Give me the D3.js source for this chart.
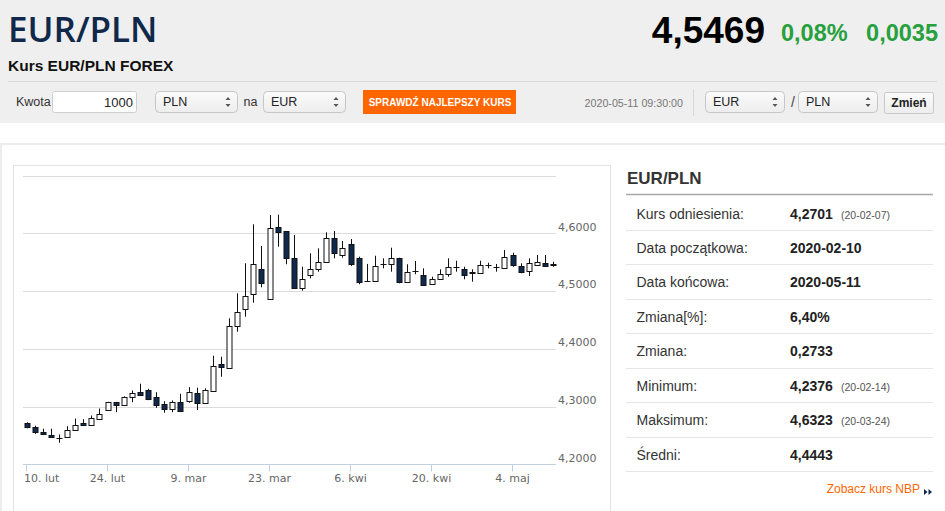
<!DOCTYPE html>
<html><head><meta charset="utf-8">
<script src="https://cdn.jsdelivr.net/npm/d3@7"></script>
<style>
html,body{margin:0;padding:0;background:#fff;}
svg{display:block;font-family:"Liberation Sans",Arial,sans-serif;}
</style></head>
<body>
<svg id="c" width="945" height="511"></svg>
<script>
// ---------- DATA ----------
const dates = [
 "2020-02-10","2020-02-11","2020-02-12","2020-02-13","2020-02-14",
 "2020-02-17","2020-02-18","2020-02-19","2020-02-20","2020-02-21",
 "2020-02-24","2020-02-25","2020-02-26","2020-02-27","2020-02-28",
 "2020-03-02","2020-03-03","2020-03-04","2020-03-05","2020-03-06",
 "2020-03-09","2020-03-10","2020-03-11","2020-03-12","2020-03-13",
 "2020-03-16","2020-03-17","2020-03-18","2020-03-19","2020-03-20",
 "2020-03-23","2020-03-24","2020-03-25","2020-03-26","2020-03-27",
 "2020-03-30","2020-03-31","2020-04-01","2020-04-02","2020-04-03",
 "2020-04-06","2020-04-07","2020-04-08","2020-04-09","2020-04-10",
 "2020-04-13","2020-04-14","2020-04-15","2020-04-16","2020-04-17",
 "2020-04-20","2020-04-21","2020-04-22","2020-04-23","2020-04-24",
 "2020-04-27","2020-04-28","2020-04-29","2020-04-30","2020-05-01",
 "2020-05-04","2020-05-05","2020-05-06","2020-05-07","2020-05-08",
 "2020-05-11"];
const open = [
 4.2713,4.2654,4.2568,4.2511,4.2450, 4.2473,4.2594,4.2722,4.2687,4.2791,
 4.2940,4.3078,4.3038,4.3172,4.3251, 4.3286,4.3165,4.3051,4.2964,4.3078,
 4.3096,4.3232,4.3059,4.3272,4.3744, 4.3664,4.4396,4.4685,4.4945,4.5377,
 4.4858,4.6104,4.6040,4.5578,4.5048, 4.5279,4.5377,4.5495,4.5913,4.5625,
 4.5810,4.5567,4.5175,4.5175,4.5462, 4.5464,4.5567,4.5152,4.5345,4.5278,
 4.5123,4.5204,4.5296,4.5409,4.5377, 4.5325,4.5308,4.5450,4.5425,4.5394,
 4.5625,4.5434,4.5353,4.5452,4.5491, 4.5460];
const high = [
 4.2730,4.2672,4.2620,4.2620,4.2519, 4.2663,4.2796,4.2784,4.2848,4.2969,
 4.3084,4.3084,4.3179,4.3281,4.3397, 4.3310,4.3251,4.3096,4.3108,4.3224,
 4.3338,4.3329,4.3318,4.3882,4.3865, 4.4529,4.4962,4.5481,4.6156,4.5780,
 4.6315,4.6323,4.6040,4.5971,4.5422, 4.5654,4.5740,4.6017,4.6040,4.5867,
 4.5901,4.5595,4.5470,4.5612,4.5567, 4.5751,4.5578,4.5464,4.5521,4.5394,
 4.5249,4.5377,4.5567,4.5526,4.5422, 4.5377,4.5526,4.5491,4.5469,4.5711,
 4.5664,4.5481,4.5567,4.5625,4.5625, 4.5509];
const low = [
 4.2627,4.2528,4.2520,4.2469,4.2376, 4.2459,4.2589,4.2669,4.2675,4.2784,
 4.2934,4.2905,4.3027,4.3078,4.3205, 4.3113,4.2981,4.2895,4.2905,4.2919,
 4.3068,4.2943,4.3047,4.3263,4.3519, 4.3660,4.4298,4.4557,4.4799,4.5066,
 4.4858,4.5768,4.5464,4.5048,4.5007, 4.5221,4.5336,4.5495,4.5567,4.5578,
 4.5434,4.5118,4.5170,4.5175,4.5394, 4.5336,4.5135,4.5152,4.5291,4.5106,
 4.5115,4.5195,4.5249,4.5336,4.5204, 4.5163,4.5300,4.5394,4.5336,4.5394,
 4.5422,4.5308,4.5261,4.5452,4.5434, 4.5422];
const close = [
 4.2644,4.2557,4.2528,4.2476,4.2455, 4.2589,4.2692,4.2680,4.2801,4.2878,
 4.3078,4.3038,4.3165,4.3241,4.3211, 4.3137,4.3038,4.2952,4.3078,4.2929,
 4.3251,4.3059,4.3289,4.3709,4.3692, 4.4401,4.4633,4.4921,4.5464,4.5135,
 4.6087,4.6028,4.5578,4.5048,4.5204, 4.5377,4.5503,4.5913,4.5654,4.5751,
 4.5464,4.5163,4.5180,4.5439,4.5468, 4.5567,4.5152,4.5325,4.5350,4.5106,
 4.5204,4.5291,4.5412,4.5412,4.5279, 4.5310,4.5452,4.5455,4.5420,4.5595,
 4.5452,4.5336,4.5481,4.5509,4.5434, 4.5469];
const xTickDates = ["2020-02-10","2020-02-24","2020-03-09","2020-03-23","2020-04-06","2020-04-20","2020-05-04"];
const xTickLabels = ["10. lut","24. lut","9. mar","23. mar","6. kwi","20. kwi","4. maj"];
const yGridValues = [4.2,4.3,4.4,4.5,4.6,4.7];
const yTickValues = [4.2,4.3,4.4,4.5,4.6];
const statLabels = ["Kurs odniesienia:","Data początkowa:","Data końcowa:","Zmiana[%]:","Zmiana:","Minimum:","Maksimum:","Średni:"];
const statValues = ["4,2701","2020-02-10","2020-05-11","6,40%","0,2733","4,2376","4,6323","4,4443"];
const statDates  = ["(20-02-07)","","","","","(20-02-14)","(20-03-24)",""];
const pairTitle = "EUR/PLN";
const lastPrice = "4,5469", changePct = "0,08%", changeAbs = "0,0035";

// ---------- DRAW ----------
const svg = d3.select("#c");
const navy = "#10284a";

// header background
svg.append("rect").attr("x",0).attr("y",0).attr("width",945).attr("height",123).attr("fill","#efefef");
svg.append("line").attr("x1",8).attr("x2",937).attr("y1",81.5).attr("y2",81.5).attr("stroke","#dadada");
svg.append("rect").attr("x",0).attr("y",143).attr("width",945).attr("height",2).attr("fill","#ececec");
svg.append("rect").attr("x",0).attr("y",143).attr("width",2).attr("height",400).attr("fill","#ececec");

svg.append("text").attr("x",8).attr("y",42).text(pairTitle)
  .attr("font-family","'Open Sans',sans-serif").attr("font-weight",600).attr("font-size",35).attr("fill",navy);
svg.append("text").attr("x",8).attr("y",71).text("Kurs EUR/PLN FOREX")
  .attr("font-weight","bold").attr("font-size",15.5).attr("fill","#111");

svg.append("text").attr("x",765).attr("y",43).attr("text-anchor","end").text(lastPrice)
  .attr("font-weight","bold").attr("font-size",37).attr("fill","#000");
svg.append("text").attr("x",781).attr("y",41).text(changePct)
  .attr("font-weight","bold").attr("font-size",23.5).attr("fill","#27a03d");
svg.append("text").attr("x",938).attr("y",41).attr("text-anchor","end").text(changeAbs)
  .attr("font-weight","bold").attr("font-size",23.5).attr("fill","#27a03d");

// controls
const defs = svg.append("defs");
const g1 = defs.append("linearGradient").attr("id","sel").attr("x1",0).attr("x2",0).attr("y1",0).attr("y2",1);
g1.append("stop").attr("offset","0").attr("stop-color","#fbfbfb");
g1.append("stop").attr("offset","1").attr("stop-color","#ededed");

svg.append("text").attr("x",16).attr("y",106).text("Kwota").attr("font-size",12.5).attr("fill","#333");
svg.append("rect").attr("x",52.5).attr("y",91.5).attr("width",84).attr("height",21).attr("rx",2)
  .attr("fill","#fff").attr("stroke","#cfcfcf");
svg.append("text").attr("x",133).attr("y",107).attr("text-anchor","end").text("1000").attr("font-size",13).attr("fill","#222");

function selectBox(x,w,label){
  svg.append("rect").attr("x",x+0.5).attr("y",91.5).attr("width",w).attr("height",21).attr("rx",4)
    .attr("fill","url(#sel)").attr("stroke","#c6c6c6");
  svg.append("text").attr("x",x+8).attr("y",106).text(label).attr("font-size",12.5).attr("fill","#222");
  const ax = x+w-9;
  svg.append("path").attr("d",`M${ax-2.5},100 L${ax+2.5},100 L${ax},97 Z M${ax-2.5},104 L${ax+2.5},104 L${ax},107 Z`)
    .attr("fill","#555");
}
selectBox(155,82,"PLN");
svg.append("text").attr("x",243.5).attr("y",106).text("na").attr("font-size",12.5).attr("fill","#333");
selectBox(263,82,"EUR");
svg.append("rect").attr("x",363).attr("y",90).attr("width",153).attr("height",24).attr("fill","#ff6600");
svg.append("text").attr("x",440).attr("y",106).attr("text-anchor","middle").text("SPRAWDŹ NAJLEPSZY KURS")
  .attr("font-weight","bold").attr("font-size",10).attr("fill","#fff");
svg.append("text").attr("x",683).attr("y",107).attr("text-anchor","end").text("2020-05-11 09:30:00")
  .attr("font-size",10.7).attr("fill","#777");
svg.append("line").attr("x1",693.5).attr("x2",693.5).attr("y1",89).attr("y2",116).attr("stroke","#d8d8d8");
selectBox(705,79,"EUR");
svg.append("text").attr("x",791).attr("y",107).text("/").attr("font-size",14).attr("fill","#444");
selectBox(798,79,"PLN");
svg.append("rect").attr("x",884.5).attr("y",92.5).attr("width",49).attr("height",21).attr("rx",2)
  .attr("fill","url(#sel)").attr("stroke","#c8c8c8");
svg.append("text").attr("x",909).attr("y",107).attr("text-anchor","middle").text("Zmień")
  .attr("font-weight","bold").attr("font-size",12).attr("fill","#222");

// chart frame
svg.append("rect").attr("x",13.5).attr("y",165.5).attr("width",597).attr("height",360)
  .attr("fill","#fff").attr("stroke","#e3e3e3");

const x = d3.scaleBand().domain(dates).range([22.5,557.1]).padding(0);
const y = d3.scaleLinear().domain([4.2,4.7]).range([464.5,175.5]);
const cx = d => Math.round(x(d)+x.bandwidth()/2);
const fmt = v => d3.format(".4f")(v).replace(".",",");

const grid = svg.append("g");
grid.selectAll("line").data(yGridValues.filter(v=>v>4.2)).join("line")
  .attr("x1",23).attr("x2",556).attr("y1",v=>Math.round(y(v))+0.5).attr("y2",v=>Math.round(y(v))+0.5)
  .attr("stroke","#dcdcdc");

// y axis labels (right side)
const yAxis = d3.axisRight(y).tickValues(yTickValues).tickSize(0).tickFormat(fmt);
const ya = svg.append("g").attr("transform","translate(556,0)").call(yAxis);
ya.select(".domain").remove();
ya.selectAll("text").attr("x",2).attr("dy","-0.3em")
  .attr("font-family","'DejaVu Sans',Verdana,sans-serif").attr("font-size",11).attr("fill","#666");

// x axis
const xAxis = d3.axisBottom(x).tickValues(xTickDates).tickSize(7).tickPadding(6)
  .tickFormat((d,i)=>xTickLabels[i]);
const xa = svg.append("g").attr("transform","translate(0,464.5)").call(xAxis);
xa.select(".domain").attr("d","M23,0H556").attr("stroke","#c0d0e0");
xa.selectAll(".tick").attr("transform",d=>`translate(${cx(d)-0.5},0)`);
xa.selectAll(".tick line").attr("stroke","#c0d0e0");
xa.selectAll(".tick text").attr("font-family","'DejaVu Sans',Verdana,sans-serif").attr("font-size",11)
  .attr("fill","#666").attr("y",10);
xa.selectAll(".tick text").each(function(){
  const b = this.getBBox();
  const gx = +this.parentNode.getAttribute("transform").match(/translate\(([-\d.]+)/)[1];
  if (gx + b.x < 24) d3.select(this).attr("dx", (24 - (gx + b.x)) + "px");
});

// candles
const candles = dates.map((d,i)=>({d,o:open[i],h:high[i],l:low[i],c:close[i]}));
const cg = svg.append("g");
cg.selectAll("line").data(candles).join("line")
  .attr("x1",d=>cx(d.d)+0.5).attr("x2",d=>cx(d.d)+0.5)
  .attr("y1",d=>y(d.h)).attr("y2",d=>y(d.l))
  .attr("stroke","#111").attr("stroke-width",1);
cg.selectAll("rect").data(candles).join("rect")
  .attr("x",d=>cx(d.d)-2)
  .attr("y",d=>Math.round(y(Math.max(d.o,d.c)))+0.5)
  .attr("width",5)
  .attr("height",d=>Math.max(0.01,Math.round(y(Math.min(d.o,d.c)))-Math.round(y(Math.max(d.o,d.c)))))
  .attr("fill",d=>d.c>=d.o?"#fff":"#0f2a4e")
  .attr("stroke","#111").attr("stroke-width",1);

// stats panel
svg.append("text").attr("x",627).attr("y",184).text(pairTitle)
  .attr("font-weight","bold").attr("font-size",17).attr("fill","#333");
svg.append("line").attr("x1",626).attr("x2",933).attr("y1",194.5).attr("y2",194.5).attr("stroke","#a8a8a8").attr("stroke-width",1.5);
const rowH = 34.43;
const rows = svg.append("g");
statLabels.forEach((lab,i)=>{
  const sep = 230 + i*rowH;
  const ty = sep - 11.5;
  rows.append("line").attr("x1",626).attr("x2",933).attr("y1",Math.round(sep)+0.5).attr("y2",Math.round(sep)+0.5)
    .attr("stroke","#e6e6e6");
  rows.append("text").attr("x",636.5).attr("y",ty).text(lab).attr("font-size",14).attr("fill","#333");
  rows.append("text").attr("x",790).attr("y",ty).text(statValues[i]).attr("font-weight","bold").attr("font-size",14).attr("fill","#222");
  if (statDates[i]) rows.append("text").attr("x",841).attr("y",ty).text(statDates[i]).attr("font-size",10.5).attr("fill","#555");
});
svg.append("text").attr("x",920).attr("y",493).attr("text-anchor","end").text("Zobacz kurs NBP")
  .attr("font-size",12).attr("fill","#ff6600");
svg.append("path").attr("d","M924,489 L927.5,492 L924,495 Z M928.5,489 L932,492 L928.5,495 Z").attr("fill",navy);
</script>
</body></html>
